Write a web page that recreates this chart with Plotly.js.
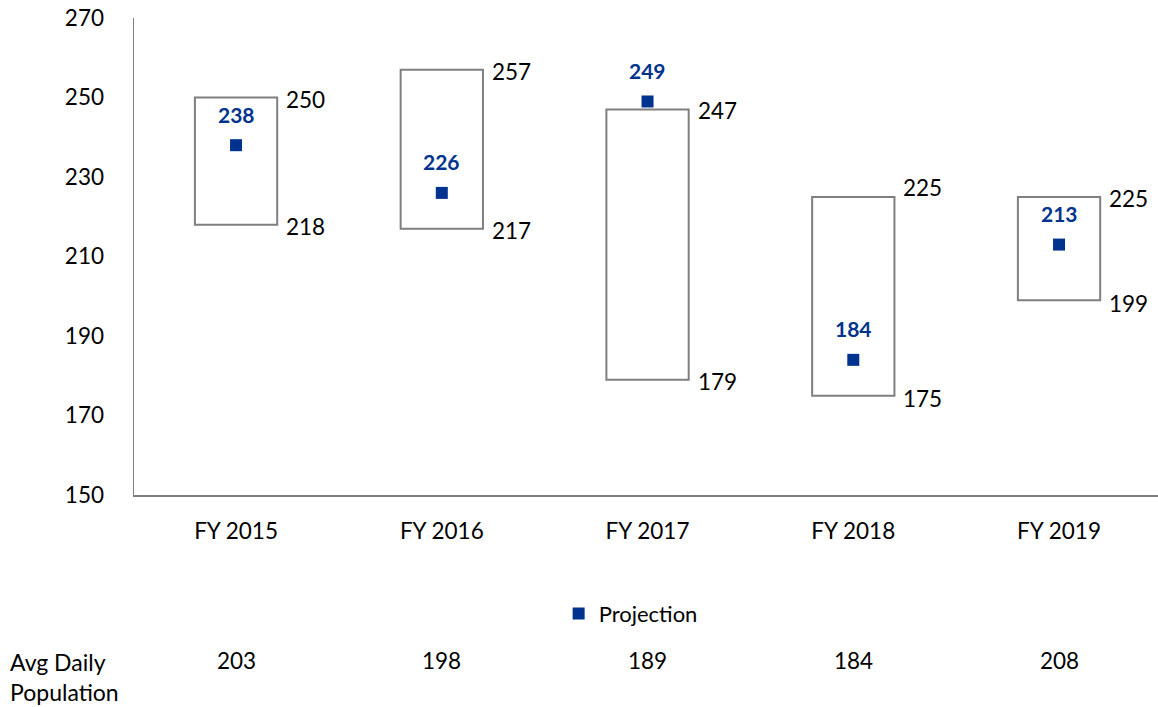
<!DOCTYPE html>
<html>
<head>
<meta charset="utf-8">
<script src="https://cdn.plot.ly/plotly-3.0.1.min.js"></script>
<style>html,body{margin:0;padding:0;background:#fff;}#chart{width:1158px;height:707px;}</style>
</head>
<body>
<div id="chart"></div>
<script>
const categories = ["FY 2015", "FY 2016", "FY 2017", "FY 2018", "FY 2019"];
const rangeLow = [218, 217, 179, 175, 199];
const rangeHigh = [250, 257, 247, 225, 225];
const projection = [238, 226, 249, 184, 213];
const avgDailyPopulation = [203, 198, 189, 184, 208];
const yTicks = [150, 170, 190, 210, 230, 250, 270];

// label vertical nudges (px, positive = up) to mimic reference placement
const highShift = [-2, -2, -1, 9, -2];
const lowShift = [-2, -2, -2, -3, -3];

const FONT = "Lato, 'Open Sans', 'Liberation Sans', sans-serif";
const idx = categories.map((_, i) => i);

const boxes = {
  type: "bar",
  x: idx,
  base: rangeLow,
  y: rangeHigh.map((h, i) => h - rangeLow[i]),
  width: 0.4,
  marker: {color: "#ffffff", line: {color: "#7f7f7f", width: 2}},
  showlegend: false,
  hoverinfo: "skip"
};

const points = {
  type: "scatter",
  mode: "markers",
  name: "Projection",
  x: idx,
  y: projection,
  marker: {symbol: "square", size: 12, color: "#00338D"},
  showlegend: true
};

const annotations = [];
idx.forEach(i => {
  annotations.push({x: i + 0.2, y: rangeHigh[i], xref: "x", yref: "y", text: String(rangeHigh[i]),
    showarrow: false, xanchor: "left", yanchor: "middle", xshift: 7, yshift: highShift[i],
    font: {family: FONT, size: 22.5, color: "#000"}});
  annotations.push({x: i + 0.2, y: rangeLow[i], xref: "x", yref: "y", text: String(rangeLow[i]),
    showarrow: false, xanchor: "left", yanchor: "middle", xshift: 7, yshift: lowShift[i],
    font: {family: FONT, size: 22.5, color: "#000"}});
  annotations.push({x: i, y: projection[i], xref: "x", yref: "y", text: "<b>" + projection[i] + "</b>",
    showarrow: false, xanchor: "center", yanchor: "middle", yshift: 31,
    font: {family: FONT, size: 21, color: "#00338D"}});
  annotations.push({x: i, y: -0.348, xref: "x", yref: "paper", text: String(avgDailyPopulation[i]),
    showarrow: false, xanchor: "center", yanchor: "middle",
    font: {family: FONT, size: 22.5, color: "#000"}});
});
annotations.push({x: -0.123, y: -0.316, xref: "paper", yref: "paper", text: "Avg Daily<br>Population",
  showarrow: false, xanchor: "left", yanchor: "top", align: "left",
  font: {family: FONT, size: 23, color: "#000"}});

const layout = {
  width: 1158, height: 707,
  margin: {l: 134, r: 0, t: 18, b: 212},
  paper_bgcolor: "#fff", plot_bgcolor: "#fff",
  font: {family: FONT, size: 22, color: "#000"},
  barmode: "overlay",
  xaxis: {
    type: "linear",
    range: [-0.496, 4.481],
    tickvals: idx, ticktext: categories,
    showgrid: false, zeroline: false,
    showline: true, linecolor: "#7f7f7f", linewidth: 1.5,
    ticks: "", ticklabelstandoff: 15,
    tickfont: {family: FONT, size: 22.5, color: "#000"},
    fixedrange: true
  },
  yaxis: {
    range: [150, 270],
    tickvals: yTicks,
    showgrid: false, zeroline: false,
    showline: true, linecolor: "#7f7f7f", linewidth: 1.5,
    ticks: "", ticklabelstandoff: 24,
    tickfont: {family: FONT, size: 22.5, color: "#000"},
    fixedrange: true
  },
  showlegend: true,
  legend: {orientation: "h", x: 0.485, xanchor: "center", y: -0.249, yanchor: "middle",
    font: {family: FONT, size: 22, color: "#000"}, itemwidth: 30, bgcolor: "rgba(0,0,0,0)"},
  annotations: annotations
};

Plotly.newPlot("chart", [boxes, points], layout, {displayModeBar: false, staticPlot: true});
</script>
</body>
</html>
